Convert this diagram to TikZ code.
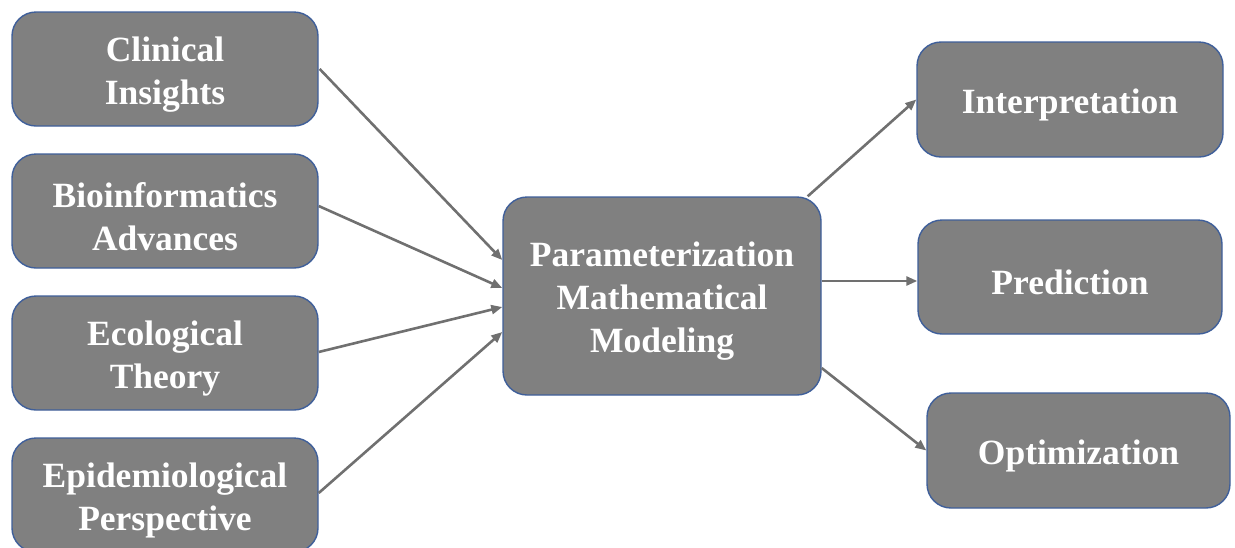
\documentclass[tikz,border=0pt]{standalone}
\usepackage{fontspec}
\setmainfont{Liberation Serif}
\usetikzlibrary{arrows.meta}
\definecolor{boxfill}{HTML}{808080}
\definecolor{boxline}{HTML}{3F5F9A}
\definecolor{arrowc}{HTML}{707070}
\begin{document}
\begin{tikzpicture}[x=1pt,y=1pt,
  box/.style={draw=boxline, line width=1.4pt, fill=boxfill, rounded corners=24pt,
    inner sep=0pt, anchor=center},
  txt/.style={text=white, font=\fontsize{35.5}{43}\selectfont\bfseries, align=center,
    inner sep=0pt, anchor=center, yshift=-5.5pt},
  conn/.style={draw=arrowc, line width=2.6pt, -{Triangle[length=11pt,width=9pt]}}
]
\useasboundingbox (0,0) rectangle (1235,-547);
\node[box, minimum width=306pt, minimum height=114pt] (clin) at (165,-69) {};
\node[box, minimum width=306pt, minimum height=114pt] (bio) at (165,-211) {};
\node[box, minimum width=306pt, minimum height=114pt] (eco) at (165,-353) {};
\node[box, minimum width=306pt, minimum height=114pt] (epi) at (165,-495) {};
\node[box, minimum width=318pt, minimum height=198pt] (cen) at (662,-296) {};
\node[box, minimum width=306pt, minimum height=115pt] (int) at (1070,-99.5) {};
\node[box, minimum width=304pt, minimum height=114pt] (pre) at (1070,-277) {};
\node[box, minimum width=303pt, minimum height=115pt] (opt) at (1078.5,-450.5) {};
\node[txt] (clinT) at (clin.center) {Clinical\\Insights};
\node[txt] (bioT) at (bio.center) {Bioinformatics\\Advances};
\node[txt] (ecoT) at (eco.center) {Ecological\\Theory};
\node[txt] (epiT) at (epi.center) {Epidemiological\\Perspective};
\node[txt] (cenT) at (cen.center) {Parameterization\\Mathematical\\Modeling};
\node[txt] (intT) at (int.center) {Interpretation};
\node[txt] (preT) at (pre.center) {Prediction};
\node[txt] (optT) at (opt.center) {Optimization};
\draw[conn] ([xshift=1pt]clin.east) -- ([yshift=36pt]cen.west);
\draw[conn] ([yshift=5pt]bio.east) -- ([yshift=8pt]cen.west);
\draw[conn] ([yshift=1pt]eco.east) -- ([yshift=-11pt]cen.west);
\draw[conn] ([yshift=2pt]epi.east) -- ([yshift=-36pt]cen.west);
\draw[conn] ([xshift=-14pt]cen.north east) -- (int.west);
\draw[conn] ([yshift=15pt]cen.east) -- ([yshift=-4pt]pre.west);
\draw[conn] ([yshift=-72pt]cen.east) -- (opt.west);
\end{tikzpicture}
\end{document}
